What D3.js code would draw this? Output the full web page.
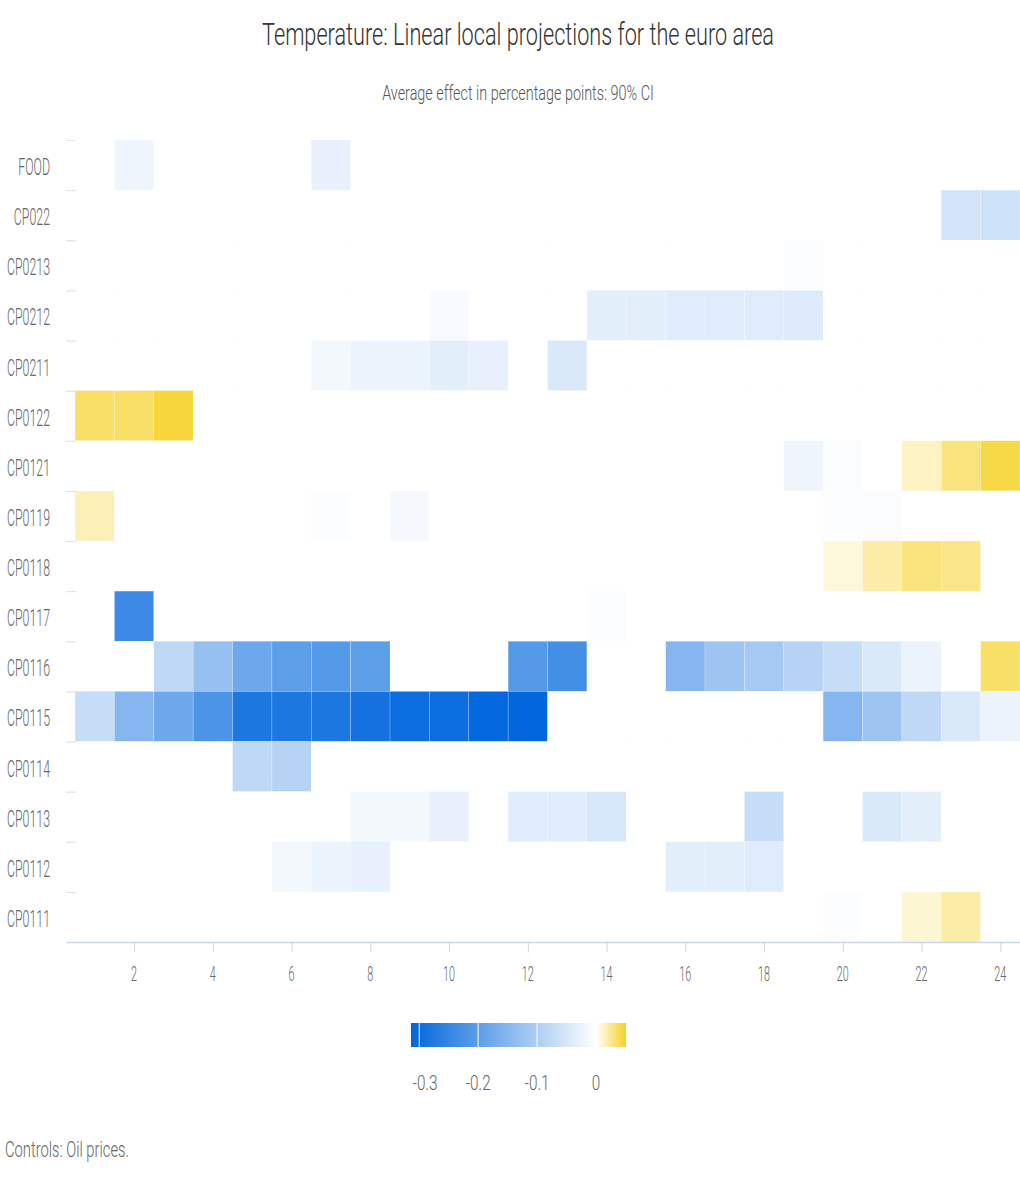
<!DOCTYPE html>
<html><head><meta charset="utf-8">
<script src="https://cdn.jsdelivr.net/npm/d3@7"></script>
<style>
body{margin:0;background:#fff;}
svg text{font-family:Roboto,"Noto Sans",sans-serif;font-weight:300;}
</style></head><body>
<svg id="c" width="1020" height="1177"></svg>
<script>
const categories = ["FOOD","CP022","CP0213","CP0212","CP0211","CP0122","CP0121","CP0119","CP0118","CP0117","CP0116","CP0115","CP0114","CP0113","CP0112","CP0111"];
const horizons = d3.range(1,25);
const xTicks = [2,4,6,8,10,12,14,16,18,20,22,24];
const legendTicks = [-0.3,-0.2,-0.1,0];
// nonzero effects: [category, horizon, value]
const effects = [
 ["FOOD",2,-0.02],["FOOD",7,-0.03],
 ["CP022",23,-0.055],["CP022",24,-0.062],
 ["CP0213",19,-0.005],
 ["CP0212",10,-0.01],["CP0212",14,-0.035],["CP0212",15,-0.035],["CP0212",16,-0.04],["CP0212",17,-0.04],["CP0212",18,-0.04],["CP0212",19,-0.042],
 ["CP0211",7,-0.015],["CP0211",8,-0.025],["CP0211",9,-0.025],["CP0211",10,-0.035],["CP0211",11,-0.03],["CP0211",13,-0.045],
 ["CP0122",1,0.035],["CP0122",2,0.035],["CP0122",3,0.045],
 ["CP0121",19,-0.02],["CP0121",20,-0.006],["CP0121",22,0.014],["CP0121",23,0.03],["CP0121",24,0.042],
 ["CP0119",1,0.016],["CP0119",7,-0.005],["CP0119",9,-0.012],["CP0119",20,-0.005],["CP0119",21,-0.006],
 ["CP0118",20,0.008],["CP0118",21,0.02],["CP0118",22,0.03],["CP0118",23,0.027],
 ["CP0117",2,-0.24],["CP0117",14,-0.005],
 ["CP0116",3,-0.08],["CP0116",4,-0.13],["CP0116",5,-0.18],["CP0116",6,-0.2],["CP0116",7,-0.21],["CP0116",8,-0.2],["CP0116",12,-0.21],["CP0116",13,-0.23],
 ["CP0116",16,-0.15],["CP0116",17,-0.12],["CP0116",18,-0.11],["CP0116",19,-0.09],["CP0116",20,-0.07],["CP0116",21,-0.045],["CP0116",22,-0.025],["CP0116",24,0.035],
 ["CP0115",1,-0.07],["CP0115",2,-0.15],["CP0115",3,-0.18],["CP0115",4,-0.22],["CP0115",5,-0.28],["CP0115",6,-0.28],["CP0115",7,-0.28],["CP0115",8,-0.29],
 ["CP0115",9,-0.3],["CP0115",10,-0.3],["CP0115",11,-0.31],["CP0115",12,-0.312],
 ["CP0115",20,-0.15],["CP0115",21,-0.12],["CP0115",22,-0.08],["CP0115",23,-0.045],["CP0115",24,-0.025],
 ["CP0114",5,-0.08],["CP0114",6,-0.09],
 ["CP0113",8,-0.015],["CP0113",9,-0.015],["CP0113",10,-0.03],["CP0113",12,-0.04],["CP0113",13,-0.04],["CP0113",14,-0.05],["CP0113",18,-0.07],["CP0113",21,-0.045],["CP0113",22,-0.035],
 ["CP0112",6,-0.015],["CP0112",7,-0.025],["CP0112",8,-0.03],["CP0112",16,-0.035],["CP0112",17,-0.035],["CP0112",18,-0.04],
 ["CP0111",20,-0.005],["CP0111",22,0.01],["CP0111",23,0.02]
];
const colorMin = -0.314, colorMax = 0.051;

const svg = d3.select("#c");
const x = d3.scaleLinear().domain([0.27,24.5]).range([66,1020]);
const y = d3.scaleBand().domain(categories).range([140,942]);
const color = d3.scaleLinear().domain([colorMin,0,colorMax]).range(["#0066dd","#ffffff","#f5d020"]).clamp(true);

const lookup = new Map(effects.map(d=>[d[0]+"|"+d[1],d[2]]));
const cells = [];
categories.forEach(c=>horizons.forEach(h=>cells.push({c,h,v:lookup.get(c+"|"+h)||0})));

// condensed text helper: scale horizontally around anchor
function condense(sel, k){
  sel.each(function(){
    const t=d3.select(this);
    const ax=+t.attr("x"), ay=+t.attr("y");
    t.attr("x",0).attr("y",0).attr("transform",`translate(${ax},${ay}) scale(${k},1)`);
  });
}
function fitK(sel, target){
  const w = sel.node().getComputedTextLength();
  return target / w;
}

// title
const title = svg.append("text").attr("x",518).attr("y",45).attr("text-anchor","middle").attr("font-size",32).attr("fill","#333").text("Temperature: Linear local projections for the euro area");
condense(title, fitK(title,512));
const sub = svg.append("text").attr("x",518).attr("y",100).attr("text-anchor","middle").attr("font-size",20).attr("fill","#555").text("Average effect in percentage points: 90% CI");
condense(sub, fitK(sub,272));

// grid
const g = svg.append("g");
g.selectAll("line.grid").data(categories).join("line").attr("class","grid")
 .attr("x1",66).attr("x2",1020).attr("y1",d=>y(d)+0.5).attr("y2",d=>y(d)+0.5)
 .attr("stroke",(d,i)=>i===0?"#e6e6e6":"#f6f6f6").attr("stroke-width",1);

// cells
g.selectAll("rect.cell").data(cells).join("rect").attr("class","cell")
 .attr("x",d=>x(d.h-0.5)).attr("width",d=>x(d.h+0.5)-x(d.h-0.5))
 .attr("y",d=>y(d.c)).attr("height",y.bandwidth())
 .attr("fill",d=>color(d.v))
 .attr("stroke",d=>d.v===0?"none":"rgba(255,255,255,0.35)").attr("stroke-width",0.6);

// y axis ticks & labels
g.selectAll("line.yt").data(categories).join("line").attr("class","yt")
 .attr("x1",66).attr("x2",76).attr("y1",d=>y(d)+y.bandwidth()+0.5).attr("y2",d=>y(d)+y.bandwidth()+0.5)
 .attr("stroke","#e0e0e0");
const yl = g.selectAll("text.yl").data(categories).join("text").attr("class","yl")
 .attr("x",50).attr("y",d=>y(d)+y.bandwidth()/2+10).attr("text-anchor","end")
 .attr("font-size",24).attr("fill","#666").text(d=>d);
const kY = fitK(yl.filter(d=>d==="CP0213"),43);
condense(yl,kY);

// x axis
const xa = svg.append("g").attr("transform","translate(0,942)")
 .call(d3.axisBottom(x).tickValues(xTicks).tickSize(10).tickFormat("").tickSizeOuter(0));
xa.select(".domain").attr("stroke","#ccd6eb").attr("stroke-width",1.5);
xa.selectAll(".tick line").attr("stroke","#ccd6eb");
const xl = svg.selectAll("text.xl").data(xTicks).join("text").attr("class","xl")
 .attr("x",d=>x(d)).attr("y",981).attr("text-anchor","middle").attr("font-size",21).attr("fill","#666").text(d=>d);
condense(xl, kY);

// legend
const lx = d3.scaleLinear().domain([colorMin,colorMax]).range([411,626]);
const defs = svg.append("defs");
const grad = defs.append("linearGradient").attr("id","lg").attr("x1","0%").attr("x2","100%");
[colorMin,-0.2,-0.1,0,colorMax].forEach(v=>{
  grad.append("stop").attr("offset",((v-colorMin)/(colorMax-colorMin)*100)+"%").attr("stop-color",color(v));
});
svg.append("rect").attr("x",lx(colorMin)).attr("y",1023).attr("width",lx(colorMax)-lx(colorMin)).attr("height",24).attr("fill","url(#lg)");
svg.selectAll("line.lt").data(legendTicks).join("line").attr("class","lt")
 .attr("x1",d=>lx(d)).attr("x2",d=>lx(d)).attr("y1",1023).attr("y2",1047).attr("stroke","#fff").attr("stroke-width",1);
const ll = svg.selectAll("text.ll").data(legendTicks).join("text").attr("class","ll")
 .attr("x",d=>Math.max(lx(d),425)).attr("y",1090).attr("text-anchor","middle").attr("font-size",21).attr("fill","#666")
 .text(d=>d===0?"0":d3.format(".1f")(d).replace("\u2212","-"));
condense(ll, fitK(ll.filter(d=>d===-0.3),25));

// footer
const foot = svg.append("text").attr("x",5).attr("y",1157).attr("font-size",22).attr("fill","#666").text("Controls: Oil prices.");
condense(foot, fitK(foot,124));
</script>
</body></html>
